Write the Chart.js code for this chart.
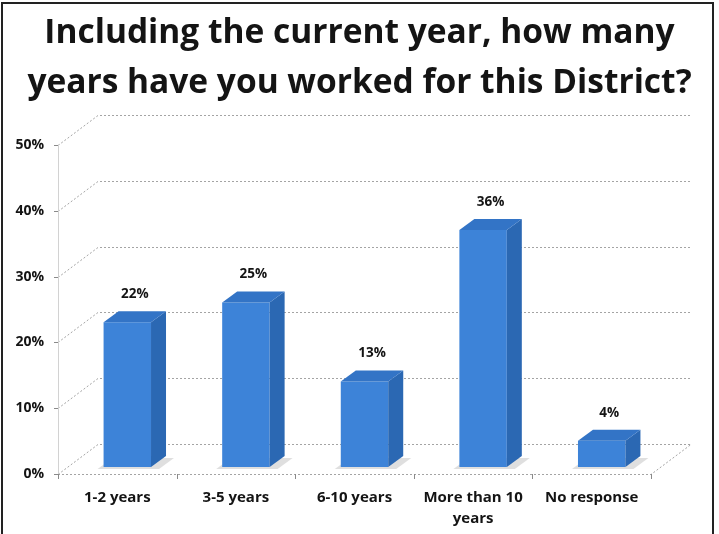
<!DOCTYPE html>
<html>
<head>
<meta charset="utf-8">
<script src="https://cdn.jsdelivr.net/npm/chart.js@4.4.1/dist/chart.umd.min.js"></script>
<style>
  html, body { margin: 0; padding: 0; background: #fff; }
  #wrap { width: 719px; height: 534px; }
</style>
</head>
<body>
<div id="wrap"><canvas id="chart" width="719" height="534"></canvas></div>
<script>
// survey data
const categories = ['1-2 years', '3-5 years', '6-10 years', ['More than 10', 'years'], 'No response'];
const percents = [22, 25, 13, 36, 4];
const yTicks = [0, 10, 20, 30, 40, 50];
const titleLines = ['Including the current year, how many', 'years have you worked for this District?'];

// 3d look
const WALL = { dx: 40, dy: -30 };
const BAR_SHIFT = { dx: 10, dy: -7 };
const BAR_DEPTH = { dx: 15, dy: -11 };
const FRONT = '#3d83d8';
const SIDE = '#2b68b3';
const TOP = '#3374c6';
const TEXT = '#141414';
const FONT = "'Open Sans'";

const box3d = {
  id: 'box3d',
  beforeDatasetsDraw(chart) {
    const { ctx, chartArea: a, scales: { x, y } } = chart;
    ctx.save();
    ctx.lineWidth = 1;
    ctx.strokeStyle = '#a4a4a4';
    ctx.setLineDash([2, 2]);
    yTicks.forEach(v => {
      const py = Math.round(y.getPixelForValue(v)) + 0.5;
      ctx.beginPath();
      ctx.moveTo(a.left, py);
      ctx.lineTo(a.left + WALL.dx, py + WALL.dy);
      ctx.lineTo(a.right + WALL.dx, py + WALL.dy);
      ctx.stroke();
    });
    // floor edges
    const fy = Math.round(a.bottom) + 0.5;
    ctx.beginPath();
    ctx.moveTo(a.left, fy);
    ctx.lineTo(a.right, fy);
    ctx.lineTo(a.right + WALL.dx, fy + WALL.dy);
    ctx.stroke();
    ctx.setLineDash([]);

    // front value axis
    ctx.strokeStyle = '#d2d2d2';
    ctx.beginPath();
    ctx.moveTo(Math.round(a.left) + 0.5, a.top);
    ctx.lineTo(Math.round(a.left) + 0.5, a.bottom);
    ctx.stroke();

    // tick marks
    ctx.strokeStyle = '#8a8a8a';
    ctx.beginPath();
    yTicks.forEach(v => {
      const py = Math.round(y.getPixelForValue(v)) + 0.5;
      ctx.moveTo(a.left - 4, py);
      ctx.lineTo(a.left, py);
    });
    for (let i = 0; i <= categories.length; i++) {
      let px;
      if (i === 0) px = a.left;
      else if (i === categories.length) px = a.right;
      else px = (x.getPixelForValue(i - 1) + x.getPixelForValue(i)) / 2;
      px = Math.round(px) + 0.5;
      ctx.moveTo(px, a.bottom);
      ctx.lineTo(px, a.bottom + 5);
    }
    ctx.stroke();

    // soft shadows on the floor
    const meta = chart.getDatasetMeta(0);
    ctx.translate(BAR_SHIFT.dx, BAR_SHIFT.dy);
    ctx.fillStyle = 'rgba(140,140,140,0.28)';
    meta.data.forEach(bar => {
      const { x: bx, base, width } = bar.getProps(['x', 'base', 'width'], true);
      const l = bx - width / 2 - 6, r = bx + width / 2 + 8;
      ctx.beginPath();
      ctx.moveTo(l, base + 2);
      ctx.lineTo(r, base + 2);
      ctx.lineTo(r + BAR_DEPTH.dx, base + BAR_DEPTH.dy + 2);
      ctx.lineTo(l + BAR_DEPTH.dx, base + BAR_DEPTH.dy + 2);
      ctx.closePath();
      ctx.fill();
    });
    ctx.restore();
  },
  beforeDatasetDraw(chart) {
    chart.ctx.save();
    chart.ctx.translate(BAR_SHIFT.dx, BAR_SHIFT.dy);
  },
  afterDatasetDraw(chart) {
    chart.ctx.restore();
  },
  afterDatasetsDraw(chart) {
    const { ctx } = chart;
    const meta = chart.getDatasetMeta(0);
    ctx.save();
    ctx.translate(BAR_SHIFT.dx, BAR_SHIFT.dy);
    meta.data.forEach((bar, i) => {
      const { x, y, base, width } = bar.getProps(['x', 'y', 'base', 'width'], true);
      const l = x - width / 2, r = x + width / 2;
      ctx.fillStyle = SIDE;
      ctx.beginPath();
      ctx.moveTo(r, y);
      ctx.lineTo(r + BAR_DEPTH.dx, y + BAR_DEPTH.dy);
      ctx.lineTo(r + BAR_DEPTH.dx, base + BAR_DEPTH.dy);
      ctx.lineTo(r, base);
      ctx.closePath();
      ctx.fill();
      ctx.fillStyle = TOP;
      ctx.beginPath();
      ctx.moveTo(l, y);
      ctx.lineTo(l + BAR_DEPTH.dx, y + BAR_DEPTH.dy);
      ctx.lineTo(r + BAR_DEPTH.dx, y + BAR_DEPTH.dy);
      ctx.lineTo(r, y);
      ctx.closePath();
      ctx.fill();

      ctx.fillStyle = TEXT;
      ctx.font = "bold 13.5px 'Open Sans'";
      ctx.textAlign = 'center';
      ctx.textBaseline = 'middle';
      ctx.fillText(percents[i] + '%', x + BAR_DEPTH.dx / 2, y + BAR_DEPTH.dy - 17);
    });
    ctx.restore();
  },
  afterDraw(chart) {
    const { ctx } = chart;
    ctx.save();
    ctx.strokeStyle = '#222';
    ctx.lineWidth = 2;
    ctx.strokeRect(2, 3, 711, 540);
    ctx.restore();
  }
};

new Chart(document.getElementById('chart'), {
  type: 'bar',
  data: {
    labels: categories,
    datasets: [{
      data: percents,
      backgroundColor: FRONT,
      barPercentage: 0.4,
      categoryPercentage: 1,
      clip: false,
    }],
  },
  options: {
    responsive: false,
    animation: false,
    layout: { padding: { left: 0, right: 0, top: 0, bottom: 8 } },
    plugins: {
      legend: { display: false },
      tooltip: { enabled: false },
      title: {
        display: true,
        text: titleLines,
        color: TEXT,
        font: { family: FONT, size: 33.5, weight: 'bold', lineHeight: '50px' },
        padding: { top: 8, bottom: 37 },
      },
    },
    scales: {
      x: {
        grid: { display: false, drawTicks: false },
        border: { display: false },
        ticks: {
          color: TEXT,
          font: { family: FONT, size: 15, weight: 'bold', lineHeight: 1.4 },
          padding: 13,
          maxRotation: 0,
          autoSkip: false,
        },
        afterFit: s => { s.height = 52; },
      },
      y: {
        min: 0,
        max: 50,
        grid: { display: false, drawTicks: false },
        border: { display: false },
        ticks: {
          stepSize: 10,
          color: TEXT,
          font: { family: FONT, size: 14, weight: 'bold' },
          padding: 14,
          callback: v => v + '%',
        },
        afterFit: s => { s.width = 58; },
      },
      // empty room on the right for the back wall
      spacer: {
        position: 'right',
        grid: { display: false, drawTicks: false },
        border: { display: false },
        ticks: { display: false },
        afterFit: s => { s.width = 68; },
      },
    },
  },
  plugins: [box3d],
});
</script>
</body>
</html>
